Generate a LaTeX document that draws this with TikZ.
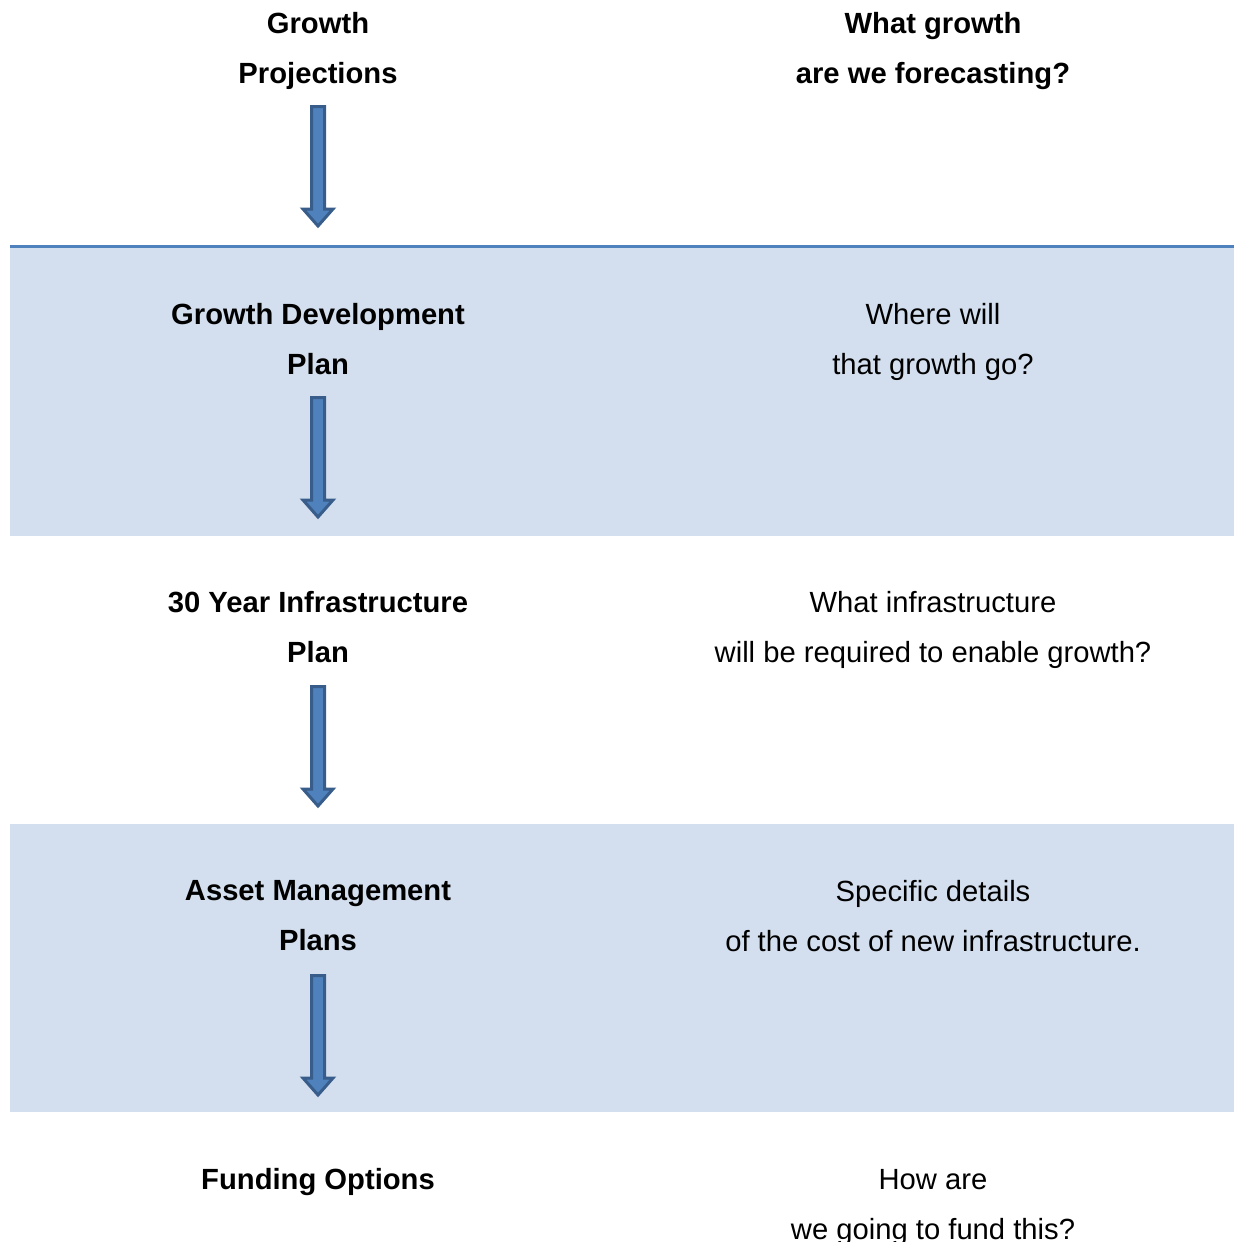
\documentclass[tikz,border=0pt]{standalone}
\usepackage{fontspec}
\setmainfont{Liberation Sans}
\usetikzlibrary{positioning}
\definecolor{bandblue}{HTML}{D3DFEE}
\definecolor{ruleblue}{HTML}{4F81BD}
\definecolor{arrowedge}{HTML}{385D8A}

\begin{document}
\begin{tikzpicture}[x=0.5pt, y=-0.5pt,
    stage/.style={font=\bfseries\fontsize{14.6}{25}\selectfont, align=center},
    question/.style={font=\fontsize{14.6}{25}\selectfont, align=center},
    flow/.style={draw=arrowedge, fill=ruleblue, line width=1.5pt}]
    \useasboundingbox (0,0) rectangle (1234,1242);

    % shaded bands
    \fill [bandblue] (10,245) rectangle (1234,536);
    \draw [ruleblue, line width=1.5pt] (10,246.5) -- (1234,246.5);
    \fill [bandblue] (10,824) rectangle (1234,1112);

    % left column: the planning stages
    \node [stage] (GP) at (318,51) {Growth\\Projections};
    \node [stage] (GDP) at (318,339) {Growth Development\\Plan};
    \node [stage] (YIP) at (318,627) {30 Year Infrastructure\\Plan};
    \node [stage] (AMP) at (318,915.5) {Asset Management\\Plans};
    \node [stage] (FO) at (318,1182) {Funding Options};

    % right column: the questions
    \node [question, font=\bfseries\fontsize{14.6}{25}\selectfont] (Q1) at (933,51) {What growth\\are we forecasting?};
    \node [question] (Q2) at (933,342) {Where will\\that growth go?};
    \node [question] (Q3) at (933,630) {What infrastructure\\will be required to enable growth?};
    \node [question] (Q4) at (933,916) {Specific details\\of the cost of new infrastructure.};
    \node [question] (Q5) at (933,1207) {How are\\we going to fund this?};

    % block arrows between stages (top of shaft)
    \coordinate (A1) at (318,106.5);
    \coordinate (A2) at (318,397.5);
    \coordinate (A3) at (318,686.5);
    \coordinate (A4) at (318,975.5);
    \foreach \a in {A1,A2,A3,A4}
      \draw [flow] (\a) ++(-6.5,0) -- ++(13,0) -- ++(0,102.5) -- ++(8.5,0)
        -- ++(-15,17) -- ++(-15,-17) -- ++(8.5,0) -- cycle;
\end{tikzpicture}
\end{document}
